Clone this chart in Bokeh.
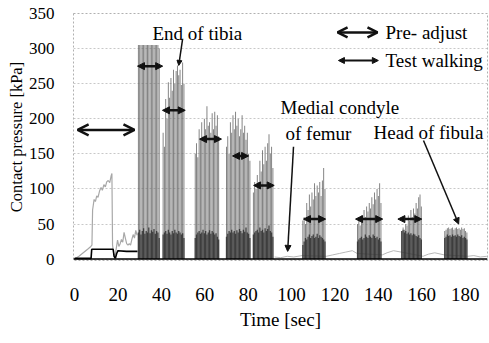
from bokeh.plotting import figure
from bokeh.models import ColumnDataSource, Arrow, NormalHead, OpenHead, Range1d, Span, FixedTicker
from bokeh.core.properties import value
from bokeh.embed import file_html
from bokeh.resources import INLINE

FONT = "Liberation Serif"

# ---------------- data ----------------
# pre-adjust phase (light = upper trace, dark = lower trace)
pre_light_t = [0, 2, 4, 6, 7.5, 8.0, 8.3, 9.0, 9.6, 10.2, 10.8, 11.5, 12.2, 12.8, 13.5, 14.2, 14.8, 15.5,
               16.2, 16.8, 17.2, 17.5, 18.0, 18.6, 19.2, 19.8, 20.4, 21.0, 21.6, 22.2, 22.8, 23.4, 24.0,
               24.6, 25.2, 25.8, 26.4, 27.0, 27.6, 28.2, 28.8]
pre_light_v = [0, 4, 9, 14, 18, 20, 70, 85, 82, 90, 88, 97, 102, 98, 106, 103, 110, 112,
               109, 118, 122, 20, 8, 3, 15, 27, 18, 22, 28, 24, 38, 30, 22, 20, 22, 20, 28, 35, 30, 41, 34]
pre_dark_t = [0, 7.6, 7.9, 12, 17.8, 18.2, 18.8, 19.4, 20.0, 24, 29.0]
pre_dark_v = [1, 1, 14, 14, 14, 4, 1, 8, 12, 11, 11]

# low trace between walking bouts
gap_t = [92.2, 95, 98, 101, 104.8, 116, 119, 122, 125, 128, 130.2, 141.8, 144, 147, 150.5,
         160.6, 163, 166, 170.3, 181.2, 184, 187, 190]
gap_v = [3, 2, 4, 3, 5, 4, 6, 8, 10, 12, 8, 6, 9, 12, 10, 4, 7, 9, 6, 4, 5, 3, 4]

# walking bouts: peak times, peak pressures, base pressures
g1_t = [29.4, 30.0, 30.6, 31.2, 31.8, 32.4, 33.0, 33.6, 34.2, 34.8, 35.4, 36.0, 36.6, 37.2, 37.8, 38.4, 39.0]
g1_peak = [305, 305, 305, 305, 305, 305, 305, 305, 305, 305, 305, 305, 305, 305, 305, 305, 300]
g1_base = [38, 42, 35, 40, 44, 36, 40, 38, 45, 37, 41, 39, 43, 36, 40, 38, 30]

g2_t = [40.8, 41.4, 42.0, 42.6, 43.2, 43.8, 44.4, 45.0, 45.6, 46.2, 46.8, 47.4, 48.0, 48.6, 49.2, 49.8, 50.4]
g2_peak = [180, 160, 228, 200, 252, 230, 258, 240, 270, 250, 268, 276, 262, 270, 248, 280, 250]
g2_base = [35, 38, 40, 36, 42, 38, 35, 40, 37, 42, 38, 36, 40, 38, 35, 37, 30]

g3_t = [55.6, 56.2, 56.8, 57.4, 58.0, 58.6, 59.2, 59.8, 60.4, 61.0, 61.6, 62.2, 62.8, 63.4, 64.0, 64.6, 65.2, 65.8, 66.4]
g3_peak = [150, 165, 145, 185, 170, 195, 175, 200, 185, 218, 190, 195, 180, 208, 185, 210, 190, 205, 175]
g3_base = [30, 35, 38, 40, 36, 38, 42, 37, 40, 35, 38, 41, 36, 40, 38, 35, 37, 32, 28]

g4_t = [70.0, 70.6, 71.2, 71.8, 72.4, 73.0, 73.6, 74.2, 74.8, 75.4, 76.0, 76.6, 77.2, 77.8, 78.4, 79.0, 79.6, 80.2, 80.8]
g4_peak = [160, 175, 150, 195, 180, 205, 185, 210, 190, 200, 175, 185, 205, 180, 190, 170, 180, 150, 140]
g4_base = [32, 36, 40, 38, 42, 38, 40, 36, 41, 38, 43, 40, 37, 42, 39, 45, 38, 36, 30]

g5_t = [82.4, 83.0, 83.6, 84.2, 84.8, 85.4, 86.0, 86.6, 87.2, 87.8, 88.4, 89.0, 89.6, 90.2, 90.8, 91.4]
g5_peak = [95, 110, 100, 120, 110, 140, 125, 155, 135, 160, 140, 165, 178, 150, 160, 130]
g5_base = [35, 38, 40, 42, 38, 45, 40, 42, 38, 44, 40, 43, 48, 40, 38, 32]

g6_t = [105.2, 105.8, 106.4, 107.0, 107.6, 108.2, 108.8, 109.4, 110.0, 110.6, 111.2, 111.8, 112.4, 113.0, 113.6, 114.2, 114.8, 115.4]
g6_peak = [55, 60, 50, 80, 70, 92, 75, 95, 85, 108, 90, 105, 95, 110, 90, 112, 130, 100]
g6_base = [20, 25, 30, 28, 32, 35, 30, 33, 35, 30, 32, 36, 30, 34, 32, 30, 28, 25]

g7_t = [130.4, 131.0, 131.6, 132.2, 132.8, 133.4, 134.0, 134.6, 135.2, 135.8, 136.4, 137.0, 137.6, 138.2, 138.8, 139.4, 140.0, 140.6, 141.2]
g7_peak = [50, 55, 48, 62, 58, 70, 60, 75, 68, 80, 72, 88, 78, 95, 85, 100, 90, 108, 80]
g7_base = [25, 28, 30, 32, 28, 30, 35, 32, 30, 34, 32, 30, 35, 33, 30, 32, 28, 30, 25]

g8_t = [150.8, 151.4, 152.0, 152.6, 153.2, 153.8, 154.4, 155.0, 155.6, 156.2, 156.8, 157.4, 158.0, 158.6, 159.2, 159.8]
g8_peak = [40, 45, 42, 50, 48, 62, 55, 70, 60, 72, 65, 80, 72, 88, 92, 75]
g8_base = [40, 42, 38, 40, 36, 38, 35, 37, 34, 36, 35, 33, 32, 34, 30, 28]

g9_t = [170.6, 171.2, 171.8, 172.4, 173.0, 173.6, 174.2, 174.8, 175.4, 176.0, 176.6, 177.2, 177.8, 178.4, 179.0, 179.6, 180.2, 180.8]
g9_peak = [40, 42, 44, 45, 43, 44, 45, 42, 44, 45, 43, 44, 42, 45, 43, 44, 40, 38]
g9_base = [30, 32, 35, 33, 34, 32, 35, 33, 34, 32, 35, 33, 32, 34, 30, 32, 30, 28]

# test-walking arrows (start time, end time, level)
walk_x0 = [29.0, 40.5, 57.6, 72.8, 82.5, 105.5, 129.5, 149.0]
walk_x1 = [40.6, 51.0, 67.7, 80.2, 92.0, 115.7, 142.0, 160.0]
walk_y = [275, 212, 171, 147, 105, 57, 57, 57]

# pre-adjust arrow
pre_x0, pre_x1, pre_y = 1.4, 27.6, 184

y_ticks = [0, 50, 100, 150, 200, 250, 300, 350]
x_ticks = [0, 20, 40, 60, 80, 100, 120, 140, 160, 180]

# ---------------- figure ----------------
p = figure(width=489, height=343, output_backend="svg", toolbar_location=None,
           x_range=Range1d(-0.5, 190.3), y_range=Range1d(-2, 350),
           min_border_left=73, min_border_right=2, min_border_top=13, min_border_bottom=83)
p.background_fill_color = "white"
p.border_fill_color = "white"
p.outline_line_color = "#b0b0b0"
p.outline_line_dash = "2 2"

p.xgrid.grid_line_color = None
p.ygrid.grid_line_color = "#c8c8c8"
p.ygrid.grid_line_dash = "2 2"

p.xaxis.ticker = FixedTicker(ticks=x_ticks)
p.yaxis.ticker = FixedTicker(ticks=y_ticks)
for ax in (p.xaxis[0], p.yaxis[0]):
    ax.axis_line_color = None
    ax.major_tick_line_color = None
    ax.minor_tick_line_color = None
    ax.major_tick_out = 0
    ax.major_tick_in = 0
    ax.major_label_text_font = FONT
    ax.major_label_text_color = "black"
    ax.axis_label_text_font = FONT
    ax.axis_label_text_font_style = "normal"
    ax.axis_label_text_color = "black"
p.xaxis.major_label_text_font_size = "19px"
p.yaxis.major_label_text_font_size = "17px"
p.xaxis.axis_label_text_font_size = "19px"
p.yaxis.axis_label_text_font_size = "16.5px"
p.xaxis.major_label_standoff = 27
p.yaxis.major_label_standoff = 19
p.xaxis.axis_label = "Time [sec]"
p.yaxis.axis_label = "Contact pressure [kPa]"
p.xaxis.axis_label_standoff = 5
p.yaxis.axis_label_standoff = 0

LIGHT = "#6a6a6a"
DARK = "#2a2a2a"

# pre-adjust traces
p.line(pre_light_t, pre_light_v, line_color="#a8a8a8", line_width=1.2)
p.line(pre_dark_t, pre_dark_v, line_color="black", line_width=1.6)
p.line(gap_t, gap_v, line_color="#b8b8b8", line_width=1)

groups = [(g1_t, g1_peak, g1_base), (g2_t, g2_peak, g2_base), (g3_t, g3_peak, g3_base),
          (g4_t, g4_peak, g4_base), (g5_t, g5_peak, g5_base), (g6_t, g6_peak, g6_base),
          (g7_t, g7_peak, g7_base), (g8_t, g8_peak, g8_base), (g9_t, g9_peak, g9_base)]
for t, pk, bs in groups:
    p.vbar(x=t, top=pk, bottom=0, width=0.42, fill_color=LIGHT, fill_alpha=0.9, line_color=None)
    p.vbar(x=t, top=bs, bottom=0, width=0.6, fill_color=DARK, fill_alpha=0.8, line_color=None)

# baseline
p.add_layout(Span(location=0, dimension="width", line_color="black", line_width=1.5))

# test walking arrows
wsrc = ColumnDataSource(dict(x0=walk_x0, x1=walk_x1, y=walk_y))
p.add_layout(Arrow(source=wsrc, x_start="x0", x_end="x1", y_start="y", y_end="y",
                   line_color="#111111", line_width=2.5,
                   start=NormalHead(size=7, fill_color="#111111", line_color="#111111"),
                   end=NormalHead(size=7, fill_color="#111111", line_color="#111111")))
# pre-adjust arrow
p.add_layout(Arrow(x_start=pre_x0, x_end=pre_x1, y_start=pre_y, y_end=pre_y,
                   line_color="#111111", line_width=2.5,
                   start=OpenHead(size=11, line_width=2.5, line_color="#111111"),
                   end=OpenHead(size=11, line_width=2.5, line_color="#111111")))

# legend (drawn)
p.add_layout(Arrow(x_start=121.2, x_end=139.6, y_start=323, y_end=323, line_color="#111111", line_width=2.5,
                   start=OpenHead(size=10, line_width=2.5, line_color="#111111"),
                   end=OpenHead(size=10, line_width=2.5, line_color="#111111")))
p.add_layout(Arrow(x_start=121.6, x_end=140.0, y_start=283, y_end=283, line_color="#111111", line_width=2,
                   start=NormalHead(size=6, fill_color="#111111", line_color="#111111"),
                   end=NormalHead(size=6, fill_color="#111111", line_color="#111111")))

def label(x, y, s):
    p.text(x=[x], y=[y], text=[s], text_font=value(FONT), text_font_size=value("19px"),
           text_align="left", text_baseline="middle", text_color="black")

label(143.3, 323, "Pre- adjust")
label(143.3, 283, "Test walking")
label(35.9, 321, "End of tibia")
label(94.9, 216, "Medial condyle")
label(97.2, 179, "of femur")
label(137.8, 180, "Head of fibula")

# pointers
p.add_layout(Arrow(x_start=49.8, y_start=314, x_end=48.0, y_end=276, line_color="#111111", line_width=1.5,
                   end=NormalHead(size=5, fill_color="#111111", line_color="#111111")))
p.add_layout(Arrow(x_start=100.9, y_start=160, x_end=98.2, y_end=11, line_color="#111111", line_width=1.5,
                   end=NormalHead(size=6, fill_color="#111111", line_color="#111111")))
p.add_layout(Arrow(x_start=160.8, y_start=169, x_end=177.0, y_end=50, line_color="#111111", line_width=1.5,
                   end=NormalHead(size=6, fill_color="#111111", line_color="#111111")))

open("out.html", "w").write(file_html(p, INLINE))
